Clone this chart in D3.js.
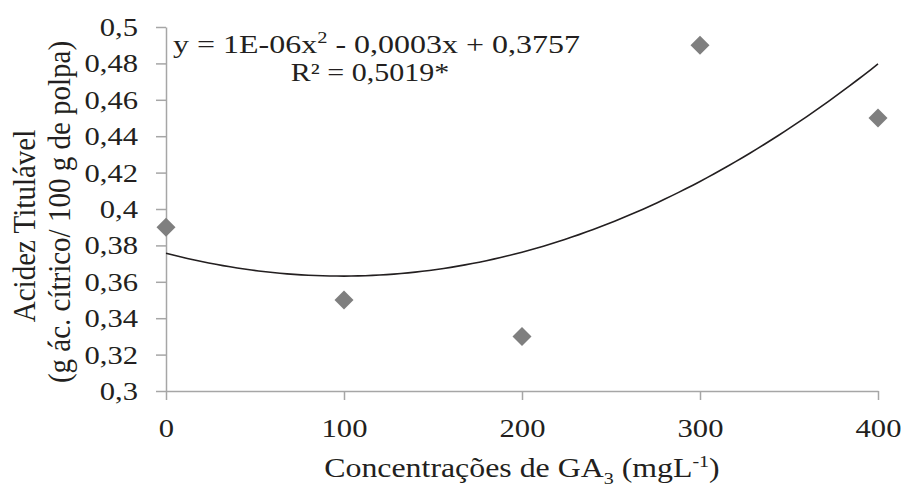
<!DOCTYPE html>
<html>
<head>
<meta charset="utf-8">
<script src="https://cdn.jsdelivr.net/npm/d3@7"></script>
<style>
  body { margin: 0; background: #fff; }
</style>
</head>
<body>
<div id="chart"></div>
<script>
// Data
const doses = [0, 100, 200, 300, 400];
const acidez = [0.39, 0.35, 0.33, 0.49, 0.45];
const xTicks = [0, 100, 200, 300, 400];
const yTicks = [0.3, 0.32, 0.34, 0.36, 0.38, 0.4, 0.42, 0.44, 0.46, 0.48, 0.5];

const width = 901, height = 487;
const margin = { top: 27, right: 23, bottom: 96, left: 166 };
const innerW = width - margin.left - margin.right;
const innerH = height - margin.top - margin.bottom;
const FONT = "'Liberation Serif', 'Times New Roman', serif";
const INK = '#231f20';
const SX = 1.2; // the source picture is stretched sideways

const fmt = d => String(+d.toFixed(2)).replace('.', ',');

const svg = d3.select('#chart').append('svg')
  .attr('width', width)
  .attr('height', height);

const x = d3.scaleLinear().domain([0, 400]).range([0, innerW]);
const y = d3.scaleLinear().domain([0.3, 0.5]).range([innerH, 0]);

const g = svg.append('g').attr('transform', `translate(${margin.left},${margin.top})`);

// y axis
const yAxis = g.append('g')
  .call(d3.axisLeft(y).tickValues(yTicks).tickFormat(fmt).tickSize(10).tickSizeOuter(0));
// x axis
const xAxis = g.append('g')
  .attr('transform', `translate(0,${innerH})`)
  .call(d3.axisBottom(x).tickValues(xTicks).tickSize(9).tickSizeOuter(0));

[yAxis, xAxis].forEach(ax => {
  ax.attr('font-family', null);
  ax.selectAll('.domain, .tick line').attr('stroke', '#a6a6a6').attr('stroke-width', 1.5);
  ax.selectAll('.tick text')
    .style('font-family', FONT)
    .style('font-size', '25.5px')
    .attr('fill', INK)
    .attr('transform', `scale(${SX},1)`);
});
yAxis.selectAll('.tick text').attr('x', -28 / SX).attr('dy', '0.33em');
xAxis.selectAll('.tick text').attr('y', 46).attr('dy', null);

// quadratic least-squares trend line fitted to the points
function quadFit(xs, ys) {
  let s = [0, 0, 0, 0, 0], t = [0, 0, 0];
  xs.forEach((xi, i) => {
    for (let k = 0; k < 5; k++) s[k] += Math.pow(xi, k);
    for (let k = 0; k < 3; k++) t[k] += Math.pow(xi, k) * ys[i];
  });
  const M = [[s[0], s[1], s[2], t[0]], [s[1], s[2], s[3], t[1]], [s[2], s[3], s[4], t[2]]];
  for (let i = 0; i < 3; i++) {
    for (let j = i + 1; j < 3; j++) {
      const f = M[j][i] / M[i][i];
      for (let k = i; k < 4; k++) M[j][k] -= f * M[i][k];
    }
  }
  const c = [0, 0, 0];
  for (let i = 2; i >= 0; i--) {
    let v = M[i][3];
    for (let k = i + 1; k < 3; k++) v -= M[i][k] * c[k];
    c[i] = v / M[i][i];
  }
  return xv => c[0] + c[1] * xv + c[2] * xv * xv;
}
const fit = quadFit(doses, acidez);
const curve = d3.range(0, 400.5, 4).map(v => [v, fit(v)]);

g.append('path')
  .datum(curve)
  .attr('fill', 'none')
  .attr('stroke', INK)
  .attr('stroke-width', 1.6)
  .attr('d', d3.line().x(d => x(d[0])).y(d => y(d[1])));

// points (diamonds)
g.selectAll('.pt')
  .data(doses.map((d, i) => ({ x: d, y: acidez[i] })))
  .join('path')
  .attr('class', 'pt')
  .attr('transform', d => `translate(${x(d.x)},${y(d.y)})`)
  .attr('d', 'M0,-9.5L9.5,0L0,9.5L-9.5,0Z')
  .attr('fill', '#7f7f7f');

// equation
const eq = svg.append('text')
  .attr('transform', 'translate(173,53) scale(1.28,1)')
  .attr('fill', INK)
  .style('font-family', FONT)
  .style('font-size', '25px');
eq.append('tspan').text('y = 1E-06x');
eq.append('tspan').attr('dy', -10).style('font-size', '16px').text('2');
eq.append('tspan').attr('dy', 10).text(' - 0,0003x + 0,3757');

svg.append('text')
  .attr('transform', 'translate(370,81) scale(1.2,1)')
  .attr('text-anchor', 'middle')
  .attr('fill', INK)
  .style('font-family', FONT)
  .style('font-size', '25px')
  .text('R² = 0,5019*');

// x title
const xt = svg.append('text')
  .attr('transform', 'translate(522,477) scale(1.18,1)')
  .attr('text-anchor', 'middle')
  .attr('fill', INK)
  .style('font-family', FONT)
  .style('font-size', '27px');
xt.append('tspan').text('Concentrações de GA');
xt.append('tspan').attr('dy', 7).style('font-size', '17px').text('3');
xt.append('tspan').attr('dy', -7).text(' (mgL');
xt.append('tspan').attr('dy', -10).style('font-size', '17px').text('-1');
xt.append('tspan').attr('dy', 10).text(')');

// y title, two lines
[['Acidez Titulável', 35, 226], ['(g ác. cítrico/ 100 g de polpa)', 70, 212]].forEach(([txt, bx, cy]) => {
  svg.append('text')
    .attr('transform', `translate(${bx},${cy}) scale(1.08,1) rotate(-90)`)
    .attr('text-anchor', 'middle')
    .attr('fill', INK)
    .style('font-family', FONT)
    .style('font-size', '29px')
    .text(txt);
});
</script>
</body>
</html>
